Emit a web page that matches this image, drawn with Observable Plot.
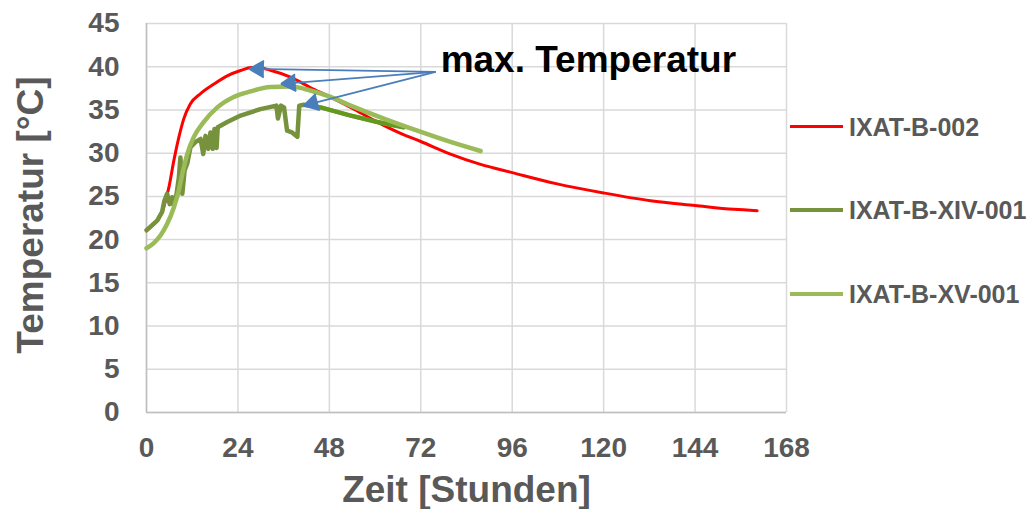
<!DOCTYPE html>
<html>
<head>
<meta charset="utf-8">
<script src="https://cdn.jsdelivr.net/npm/d3@7"></script>
<script src="https://cdn.jsdelivr.net/npm/@observablehq/plot@0.6"></script>
<style>
  body { margin: 0; background: #fff; font-family: "Liberation Sans", Arial, sans-serif; }
  #wrap { position: relative; width: 1035px; height: 509px; overflow: hidden; }
  #legend { position: absolute; left: 790px; top: 0; }
  .item { position: absolute; left: 0; height: 30px; display: flex; align-items: center; white-space: nowrap; }
  .swatch { width: 53px; margin-right: 6px; }
  .lbl { font-size: 25px; font-weight: bold; color: #595959; line-height: 30px; }
</style>
</head>
<body>
<div id="wrap"><div id="legend"></div></div>
<script>
// ---- Data ----
const xTicks = [0, 24, 48, 72, 96, 120, 144, 168];
const yTicks = [0, 5, 10, 15, 20, 25, 30, 35, 40, 45];
const xTitle = "Zeit [Stunden]";
const yTitle = "Temperatur [°C]";
const seriesNames = ["IXAT-B-002", "IXAT-B-XIV-001", "IXAT-B-XV-001"];
const seriesColors = ["#FF0000", "#76923C", "#9BBB59"];

const redHours = [0, 1.5, 3.2, 4.5, 5.9, 7.2, 8.5, 9.8, 11.5, 14.2, 17.7, 21.2, 24.7, 27.5, 30, 32.5, 37.8, 43, 48, 53.6, 60.6, 66.7, 72, 79.8, 87.7, 96, 107.8, 120, 132.3, 144, 154.2, 160.3];
const redTemps = [21.0, 21.6, 22.4, 23.75, 26.1, 29.2, 31.85, 34.0, 35.7, 36.9, 38.0, 38.95, 39.56, 39.9, 39.85, 39.6, 38.8, 37.6, 36.55, 35.3, 33.6, 32.3, 31.35, 29.9, 28.7, 27.75, 26.45, 25.4, 24.5, 23.95, 23.5, 23.35];

const darkHours = [0, 1.05, 2.8, 4.1, 4.7, 5.4, 6.1, 6.7, 7.2, 7.9, 8.5, 8.9, 9.4, 10.0, 10.7, 11.55, 12.9, 14.2, 14.9, 15.5, 16.2, 16.8, 17.4, 17.85, 18.4, 18.7, 21.2, 24.7, 29.9, 34.1, 34.5, 35.3, 36.1, 36.9, 38.2, 39.6, 40.1, 41.3, 45.7, 53.6, 60.6, 67.5];
const darkTemps = [21.1, 21.5, 22.2, 23.2, 24.5, 25.3, 24.1, 24.9, 23.95, 25.3, 27.2, 29.5, 25.3, 28.0, 28.8, 30.7, 31.3, 31.65, 29.9, 32.0, 30.5, 32.4, 30.5, 32.8, 30.6, 33.0, 33.6, 34.35, 35.1, 35.5, 34.0, 35.5, 35.3, 32.6, 32.4, 31.9, 35.5, 35.6, 35.3, 34.35, 33.6, 33.0];

const lightHours = [0, 1.9, 3.7, 5.4, 7.2, 8.5, 9.4, 10.7, 12.4, 15.0, 18.6, 22.9, 27.3, 32.5, 37.8, 43.0, 48.3, 53.6, 62.3, 71.1, 79.8, 87.7];
const lightTemps = [19.0, 19.6, 20.5, 21.8, 23.75, 25.7, 27.6, 29.9, 31.85, 33.6, 35.3, 36.5, 37.15, 37.65, 37.7, 37.25, 36.5, 35.5, 34.0, 32.6, 31.3, 30.25];

const annotationText = "max. Temperatur";
const arrowFromHour = 75.9, arrowFromTemp = 39.4;
const arrowTipHours = [27.0, 35.35, 41.25];
const arrowTipTemps = [39.75, 38.02, 35.5];

// ---- Build tables ----
const red = redHours.map((h, i) => ({h, t: redTemps[i]}));
const dark = darkHours.map((h, i) => ({h, t: darkTemps[i]}));
const light = lightHours.map((h, i) => ({h, t: lightTemps[i]}));
const darkLate = dark.filter(d => d.h >= 45.7);
const arrows = arrowTipHours.map((h, i) => ({x1: arrowFromHour, y1: arrowFromTemp, x2: h, y2: arrowTipTemps[i]}));

const font = '"Liberation Sans", Arial, sans-serif';
const plot = Plot.plot({
  width: 1035, height: 509,
  marginLeft: 146, marginRight: 249, marginTop: 23, marginBottom: 97,
  style: {fontFamily: font, background: "transparent"},
  x: {domain: [0, 168]},
  y: {domain: [0, 45]},
  marks: [
    Plot.gridX(xTicks, {stroke: "#D9D9D9", strokeOpacity: 1, strokeWidth: 1.5}),
    Plot.gridY(yTicks, {stroke: "#D9D9D9", strokeOpacity: 1, strokeWidth: 1.5}),
    Plot.ruleX([0], {stroke: "#BFBFBF", strokeWidth: 1.5}),
    Plot.ruleY([0], {stroke: "#BFBFBF", strokeWidth: 1.5}),
    Plot.axisX(xTicks, {tickSize: 0, tickPadding: 25, fontSize: 28, fontWeight: "bold", fill: "#595959", label: null}),
    Plot.axisY(yTicks, {tickSize: 0, tickPadding: 27, fontSize: 28, fontWeight: "bold", fill: "#595959", label: null}),
    Plot.text([yTitle], {text: d => d, frameAnchor: "left", textAnchor: "middle", lineAnchor: "middle", dx: -115, dy: -3, rotate: -90, fontSize: 37, fontWeight: "bold", fill: "#595959"}),
    Plot.text([xTitle], {text: d => d, frameAnchor: "bottom", textAnchor: "middle", lineAnchor: "middle", dy: 78, fontSize: 37, fontWeight: "bold", fill: "#595959"}),
    Plot.line(red, {x: "h", y: "t", stroke: seriesColors[0], strokeWidth: 3, curve: "monotone-x"}),
    Plot.line(dark, {x: "h", y: "t", stroke: seriesColors[1], strokeWidth: 4.5, curve: "linear", strokeLinejoin: "round"}),
    Plot.line(darkLate, {x: "h", y: "t", stroke: "#639A1E", strokeWidth: 4, curve: "linear"}),
    Plot.line(light, {x: "h", y: "t", stroke: seriesColors[2], strokeWidth: 4.5, curve: "monotone-x"}),
    Plot.arrow(arrows, {x1: "x1", y1: "y1", x2: "x2", y2: "y2", stroke: "#4A7EBB", fill: "#4A7EBB", strokeWidth: 1.8, strokeLinejoin: "miter", strokeLinecap: "butt", headLength: 14, headAngle: 60}),
    Plot.text([annotationText], {text: d => d, x: () => arrowFromHour, y: () => arrowFromTemp, dx: 5, textAnchor: "start", lineAnchor: "bottom", fontSize: 37, fontWeight: "bold", fill: "#000"})
  ]
});
document.getElementById("wrap").prepend(plot);

// ---- Legend ----
const legendCenters = [126.7, 210, 294];
const swatchWidths = [3, 4, 4];
const legend = document.getElementById("legend");
seriesNames.forEach((name, i) => {
  const item = document.createElement("div");
  item.className = "item";
  item.style.top = (legendCenters[i] - 15) + "px";
  const sw = document.createElement("div");
  sw.className = "swatch";
  sw.style.height = swatchWidths[i] + "px";
  sw.style.background = seriesColors[i];
  const lb = document.createElement("span");
  lb.className = "lbl";
  lb.textContent = name;
  item.append(sw, lb);
  legend.append(item);
});
</script>
</body>
</html>
